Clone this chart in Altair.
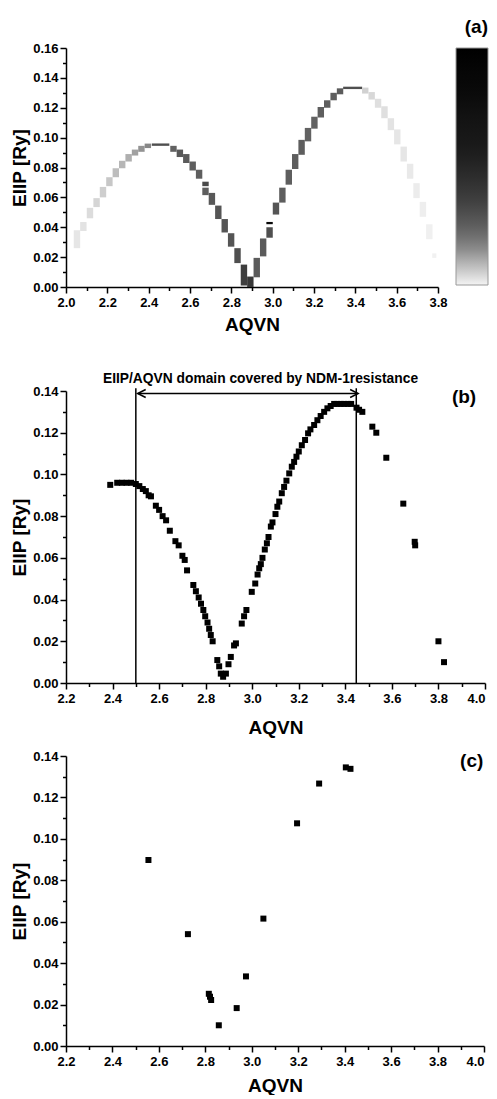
import altair as alt
import pandas as pd

FONT = "Liberation Sans"

# ---------------- panel (a): density cells ----------------
a_x = [2.053, 2.084, 2.116, 2.148, 2.179, 2.210, 2.241, 2.272, 2.303, 2.334, 2.365, 2.396,
       2.4575, 2.520, 2.551, 2.582, 2.613, 2.644, 2.675, 2.675, 2.706, 2.737, 2.768, 2.799,
       2.830, 2.861, 2.892, 2.923, 2.954, 2.985, 2.985, 3.016, 3.047, 3.078, 3.109, 3.140,
       3.171, 3.202, 3.233, 3.264, 3.295, 3.326, 3.387, 3.448, 3.479, 3.510, 3.541, 3.572,
       3.603, 3.634, 3.665, 3.696, 3.727, 3.758, 3.782]
a_y = [0.0320, 0.0405, 0.0495, 0.0565, 0.0635, 0.0705, 0.0765, 0.0820, 0.0865, 0.0900, 0.0925, 0.0945,
       0.0953, 0.0925, 0.0895, 0.0860, 0.0810, 0.0755, 0.0690, 0.0640, 0.0590, 0.0500, 0.0410, 0.0315,
       0.0210, 0.0080, 0.0035, 0.0130, 0.0265, 0.0365, 0.0428, 0.0525, 0.0615, 0.0735, 0.0840, 0.0935,
       0.1020, 0.1100, 0.1170, 0.1225, 0.1275, 0.1310, 0.1333, 0.1315, 0.1280, 0.1230, 0.1170, 0.1090,
       0.1005, 0.0890, 0.0775, 0.0645, 0.0520, 0.0370, 0.0210]
a_w = [0.031] * 12 + [0.085] + [0.031] * 29 + [0.092] + [0.031] * 11 + [0.02]
a_h = [0.012, 0.006, 0.007, 0.006, 0.007, 0.006, 0.006, 0.005, 0.005, 0.004, 0.004, 0.003,
       0.0016, 0.004, 0.005, 0.006, 0.006, 0.006, 0.003, 0.005, 0.008, 0.009, 0.009, 0.009,
       0.010, 0.014, 0.007, 0.013, 0.012, 0.007, 0.0015, 0.008, 0.010, 0.010, 0.010, 0.010,
       0.009, 0.008, 0.007, 0.005, 0.005, 0.004, 0.0016, 0.004, 0.005, 0.006, 0.008, 0.008,
       0.010, 0.010, 0.010, 0.010, 0.010, 0.010, 0.003]
a_z = [0.020, 0.025, 0.035, 0.045, 0.055, 0.065, 0.080, 0.090, 0.100, 0.120, 0.140, 0.160,
       0.300, 0.240, 0.270, 0.260, 0.250, 0.250, 0.320, 0.250, 0.270, 0.280, 0.280, 0.280,
       0.300, 0.360, 0.400, 0.260, 0.260, 0.300, 0.850, 0.280, 0.250, 0.250, 0.250, 0.250,
       0.240, 0.240, 0.250, 0.250, 0.250, 0.260, 0.300, 0.050, 0.040, 0.030, 0.030, 0.025,
       0.020, 0.020, 0.015, 0.012, 0.008, 0.005, 0.004]

z_stops = [0.0, 0.08, 0.15, 0.22, 0.30, 0.36, 0.46, 0.58, 0.78, 1.0]
z_colors = ["#f4f4f4", "#bdbdbd", "#8c8c8c", "#686868", "#4f4f4f", "#3e3e3e",
            "#2c2c2c", "#1a1a1a", "#0c0c0c", "#000000"]

# ---------------- panel (b) ----------------
b_x = [2.39, 2.42, 2.44, 2.46, 2.48, 2.50, 2.515, 2.53, 2.543, 2.555, 2.565, 2.586, 2.60, 2.615,
       2.63, 2.646, 2.67, 2.684, 2.70, 2.71, 2.72, 2.747, 2.758, 2.77, 2.78, 2.79, 2.798, 2.808,
       2.815, 2.822, 2.83, 2.85, 2.858, 2.865, 2.875, 2.887, 2.898, 2.908, 2.922, 2.93, 2.955,
       2.965, 2.975, 2.998, 3.013, 3.023, 3.03, 3.037, 3.044, 3.054, 3.063, 3.07, 3.08, 3.087,
       3.10, 3.108, 3.116, 3.127, 3.137, 3.147, 3.159, 3.17, 3.18, 3.19, 3.20, 3.213, 3.227,
       3.24, 3.25, 3.266, 3.28, 3.294, 3.309, 3.323, 3.337, 3.352, 3.366, 3.38, 3.395, 3.41,
       3.425, 3.448, 3.459, 3.473, 3.516, 3.533, 3.576, 3.649, 3.698, 3.70, 3.80, 3.824]
b_y = [0.0950, 0.0960, 0.0960, 0.0960, 0.0960, 0.0954, 0.0944, 0.0930, 0.0920, 0.0900, 0.0895,
       0.0850, 0.0830, 0.0800, 0.0780, 0.0730, 0.0680, 0.0660, 0.0610, 0.0590, 0.0540, 0.0470,
       0.0440, 0.0410, 0.0380, 0.0350, 0.0320, 0.0290, 0.0260, 0.0230, 0.0200, 0.0110, 0.0080,
       0.0045, 0.0030, 0.0045, 0.0090, 0.0125, 0.0180, 0.0190, 0.0285, 0.0320, 0.0350, 0.0437,
       0.0477, 0.0520, 0.0550, 0.0570, 0.0600, 0.0640, 0.0670, 0.0700, 0.0750, 0.0770, 0.0810,
       0.0845, 0.0870, 0.0910, 0.0940, 0.0970, 0.1005, 0.1037, 0.1060, 0.1085, 0.1110, 0.1140,
       0.1165, 0.1197, 0.1216, 0.1237, 0.1260, 0.1280, 0.1300, 0.1317, 0.1328, 0.1338, 0.1338,
       0.1338, 0.1338, 0.1338, 0.1338, 0.1320, 0.1310, 0.1300, 0.1229, 0.1200, 0.1080, 0.0860,
       0.0677, 0.0660, 0.0200, 0.0100]

b_lines_x = [2.50, 3.447]
b_lines_y0 = [0.0, 0.0]
b_lines_y1 = [0.1413, 0.1413]
b_arrow_x0 = [2.508]
b_arrow_x1 = [3.455]
b_arrow_y = [0.1388]
b_note = "EIIP/AQVN domain covered by NDM-1resistance"

# ---------------- panel (c) ----------------
c_x = [2.555, 2.725, 2.815, 2.82, 2.825, 2.858, 2.935, 2.975, 3.05, 3.195, 3.29, 3.405, 3.425]
c_y = [0.0898, 0.0540, 0.0252, 0.0238, 0.0222, 0.0100, 0.0183, 0.0336, 0.0615, 0.1075,
       0.1267, 0.1345, 0.1338]

# ---------------- axes / ticks ----------------
A_XTICKS = [2.0, 2.1, 2.2, 2.3, 2.4, 2.5, 2.6, 2.7, 2.8, 2.9, 3.0, 3.1, 3.2, 3.3, 3.4, 3.5, 3.6, 3.7, 3.8]
BC_XTICKS = [2.2, 2.3, 2.4, 2.5, 2.6, 2.7, 2.8, 2.9, 3.0, 3.1, 3.2, 3.3, 3.4, 3.5, 3.6, 3.7, 3.8, 3.9, 4.0]
A_YTICKS = [0.00, 0.01, 0.02, 0.03, 0.04, 0.05, 0.06, 0.07, 0.08, 0.09, 0.10, 0.11, 0.12,
            0.13, 0.14, 0.15, 0.16]
BC_YTICKS = [0.00, 0.01, 0.02, 0.03, 0.04, 0.05, 0.06, 0.07, 0.08, 0.09, 0.10, 0.11, 0.12,
             0.13, 0.14]

XMAJOR = "round(datum.value*10) % 2 == 0"
YMAJOR = "round(datum.value*100) % 2 == 0"


def xaxis(vals, title_pad):
    return alt.Axis(values=vals, title="AQVN",
                    labelExpr=XMAJOR + " ? format(datum.value, '.1f') : ''",
                    tickSize={"condition": {"test": XMAJOR, "value": 6}, "value": 3.5},
                    labelAlign={"condition": {"test": "datum.value >= 3.95", "value": "right"},
                                "value": "center"},
                    labelPadding=3, titlePadding=title_pad)


def yaxis(vals):
    return alt.Axis(values=vals, title="EIIP [Ry]",
                    labelExpr=YMAJOR + " ? format(datum.value, '.2f') : ''",
                    tickSize={"condition": {"test": YMAJOR, "value": 6}, "value": 3.5},
                    labelPadding=2, titlePadding=3)


# ---------------- panel (a) chart ----------------
df_a = pd.DataFrame({"x": a_x, "y": a_y, "w": a_w, "h": a_h, "z": a_z})
df_a["x0"] = df_a["x"] - df_a["w"] / 2
df_a["x1"] = df_a["x"] + df_a["w"] / 2
df_a["y0"] = df_a["y"] - df_a["h"] / 2
df_a["y1"] = df_a["y"] + df_a["h"] / 2

chart_a = alt.Chart(df_a).mark_rect().encode(
    x=alt.X("x0:Q", scale=alt.Scale(domain=[2.0, 3.8], nice=False, zero=False),
            axis=xaxis(A_XTICKS, 6)),
    x2="x1:Q",
    y=alt.Y("y0:Q", scale=alt.Scale(domain=[0.0, 0.16], nice=False, zero=False), axis=yaxis(A_YTICKS)),
    y2="y1:Q",
    color=alt.Color("z:Q", scale=alt.Scale(domain=z_stops, range=z_colors),
                    legend=alt.Legend(title=None, gradientLength=237, gradientThickness=32,
                                      labelExpr="''", offset=18, padding=0, labelOffset=0,
                                      gradientStrokeColor="#999999", gradientStrokeWidth=1)),
).properties(
    width=372, height=239,
    title=alt.TitleParams("(a)", anchor="end", frame="group", dx=50, fontSize=19, font=FONT,
                          fontWeight="bold", color="black", offset=5),
)

# ---------------- panel (b) chart ----------------
YB = alt.Y("y:Q", scale=alt.Scale(domain=[0.0, 0.14], nice=False, zero=False), axis=yaxis(BC_YTICKS))
XB = alt.X("x:Q", scale=alt.Scale(domain=[2.2, 4.0], nice=False, zero=False),
           axis=xaxis(BC_XTICKS, 13))
XC = alt.X("x:Q", scale=alt.Scale(domain=[2.2, 4.0], nice=False, zero=False),
           axis=xaxis(BC_XTICKS, 8))

df_b = pd.DataFrame({"x": b_x, "y": b_y})
pts_b = alt.Chart(df_b).mark_square(size=36, color="black", opacity=1).encode(x=XB, y=YB)

df_lines = pd.DataFrame({"x": b_lines_x, "y": b_lines_y0, "y2": b_lines_y1})
lines_b = alt.Chart(df_lines).mark_rule(color="black", strokeWidth=1.5).encode(
    x=XB, y=YB, y2="y2:Q")

df_arrow = pd.DataFrame({"x": b_arrow_x0, "x2": b_arrow_x1, "y": b_arrow_y})
arrow_b = alt.Chart(df_arrow).mark_rule(color="black", strokeWidth=1.5).encode(
    x=XB, x2="x2:Q", y=YB)
head_l = alt.Chart(pd.DataFrame({"x": b_arrow_x0, "y": b_arrow_y})).mark_point(
    shape="M2,-1L0,0L2,1", filled=False, size=64, color="black", strokeWidth=1.5, opacity=1
).encode(x=XB, y=YB)
head_r = alt.Chart(pd.DataFrame({"x": b_arrow_x1, "y": b_arrow_y})).mark_point(
    shape="M-2,-1L0,0L-2,1", filled=False, size=64, color="black", strokeWidth=1.5, opacity=1
).encode(x=XB, y=YB)

lab_b = alt.Chart(pd.DataFrame({"x": [3.91], "y": [0.137], "t": ["(b)"]})).mark_text(
    font=FONT, fontSize=19, fontWeight="bold", color="black", align="center", baseline="middle"
).encode(x=XB, y=YB, text="t:N")

chart_b = alt.layer(pts_b, lines_b, arrow_b, head_l, head_r, lab_b).properties(
    width=419, height=292,
    title=alt.TitleParams(b_note, anchor="middle", frame="group", dx=-15, fontSize=13.8,
                          font=FONT, fontWeight="bold", color="black", offset=-1),
)

# ---------------- panel (c) chart ----------------
df_c = pd.DataFrame({"x": c_x, "y": c_y})
pts_c = alt.Chart(df_c).mark_square(size=36, color="black", opacity=1).encode(x=XC, y=YB)
lab_c = alt.Chart(pd.DataFrame({"x": [3.947], "y": [0.1376], "t": ["(c)"]})).mark_text(
    font=FONT, fontSize=19, fontWeight="bold", color="black", align="center", baseline="middle"
).encode(x=XC, y=YB, text="t:N")
chart_c = alt.layer(pts_c, lab_c).properties(width=418, height=290)

chart = alt.vconcat(
    chart_a,
    alt.vconcat(chart_b, chart_c, spacing=13),
    spacing=38,
).resolve_scale(
    color="independent"
).resolve_legend(
    color="independent"
).properties(
    padding={"left": 2, "top": 10, "right": 0, "bottom": 0}
).configure_view(
    stroke=None
).configure_axis(
    domainColor="black", domainWidth=1.5, tickColor="black", tickWidth=1.5,
    labelFont=FONT, labelFontSize=13, labelFontWeight="bold", labelColor="black",
    titleFont=FONT, titleFontSize=19, titleFontWeight="bold", titleColor="black",
    grid=False, labelFlush=False, labelOverlap=False,
)

chart.save("out.html", embed_options={"renderer": "svg", "actions": False})
